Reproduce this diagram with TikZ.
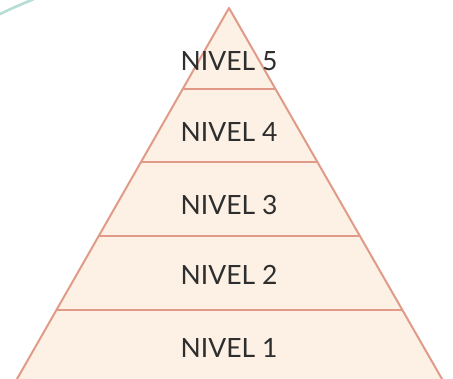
\documentclass[tikz,border=0pt]{standalone}
\usepackage{fontspec}
\setmainfont{Lato}
\usetikzlibrary{calc, positioning}
\definecolor{piel}{HTML}{FCF1E4}
\definecolor{borde}{HTML}{E29A88}
\definecolor{texto}{HTML}{2E2E2E}
\definecolor{verde}{HTML}{B5DDD4}
\tikzset{
every node/.style={text=texto, font=\fontsize{26.5}{26.5}\selectfont},
nivel/.style={inner sep=0pt, anchor=center},
linea/.style={draw=borde, line width=2pt},
}

\begin{document}
\begin{tikzpicture}[x=1pt, y=-1pt]
    \useasboundingbox (0,0) rectangle (453,379);
    \clip (0,0) rectangle (453,379);
    \coordinate (apex) at (229,8);
    \coordinate (bl) at (17,379);
    \coordinate (br) at (442,379);
    % decorative curve
    \draw[verde, line width=2.6pt, line cap=round] (-4,16) .. controls (10,9) and (22,4) .. (34,-1);
    \fill[piel] (apex) -- ($(apex)!1.03!(bl)$) -- ($(apex)!1.03!(br)$) -- cycle;
    \foreach \f in {0.218, 0.415, 0.615, 0.814}
        \draw[linea] ($(apex)!\f!(bl)$) -- ($(apex)!\f!(br)$);
    \draw[linea, line join=round] ($(apex)!1.03!(bl)$) -- (apex) -- ($(apex)!1.03!(br)$);

    \node[nivel] (n5) at (229,61) {NIVEL 5};
    \node[nivel] (n4) at (229,132) {NIVEL 4};
    \node[nivel] (n3) at (229,205) {NIVEL 3};
    \node[nivel] (n2) at (229,275) {NIVEL 2};
    \node[nivel] (n1) at (229,348) {NIVEL 1};
\end{tikzpicture}
\end{document}
